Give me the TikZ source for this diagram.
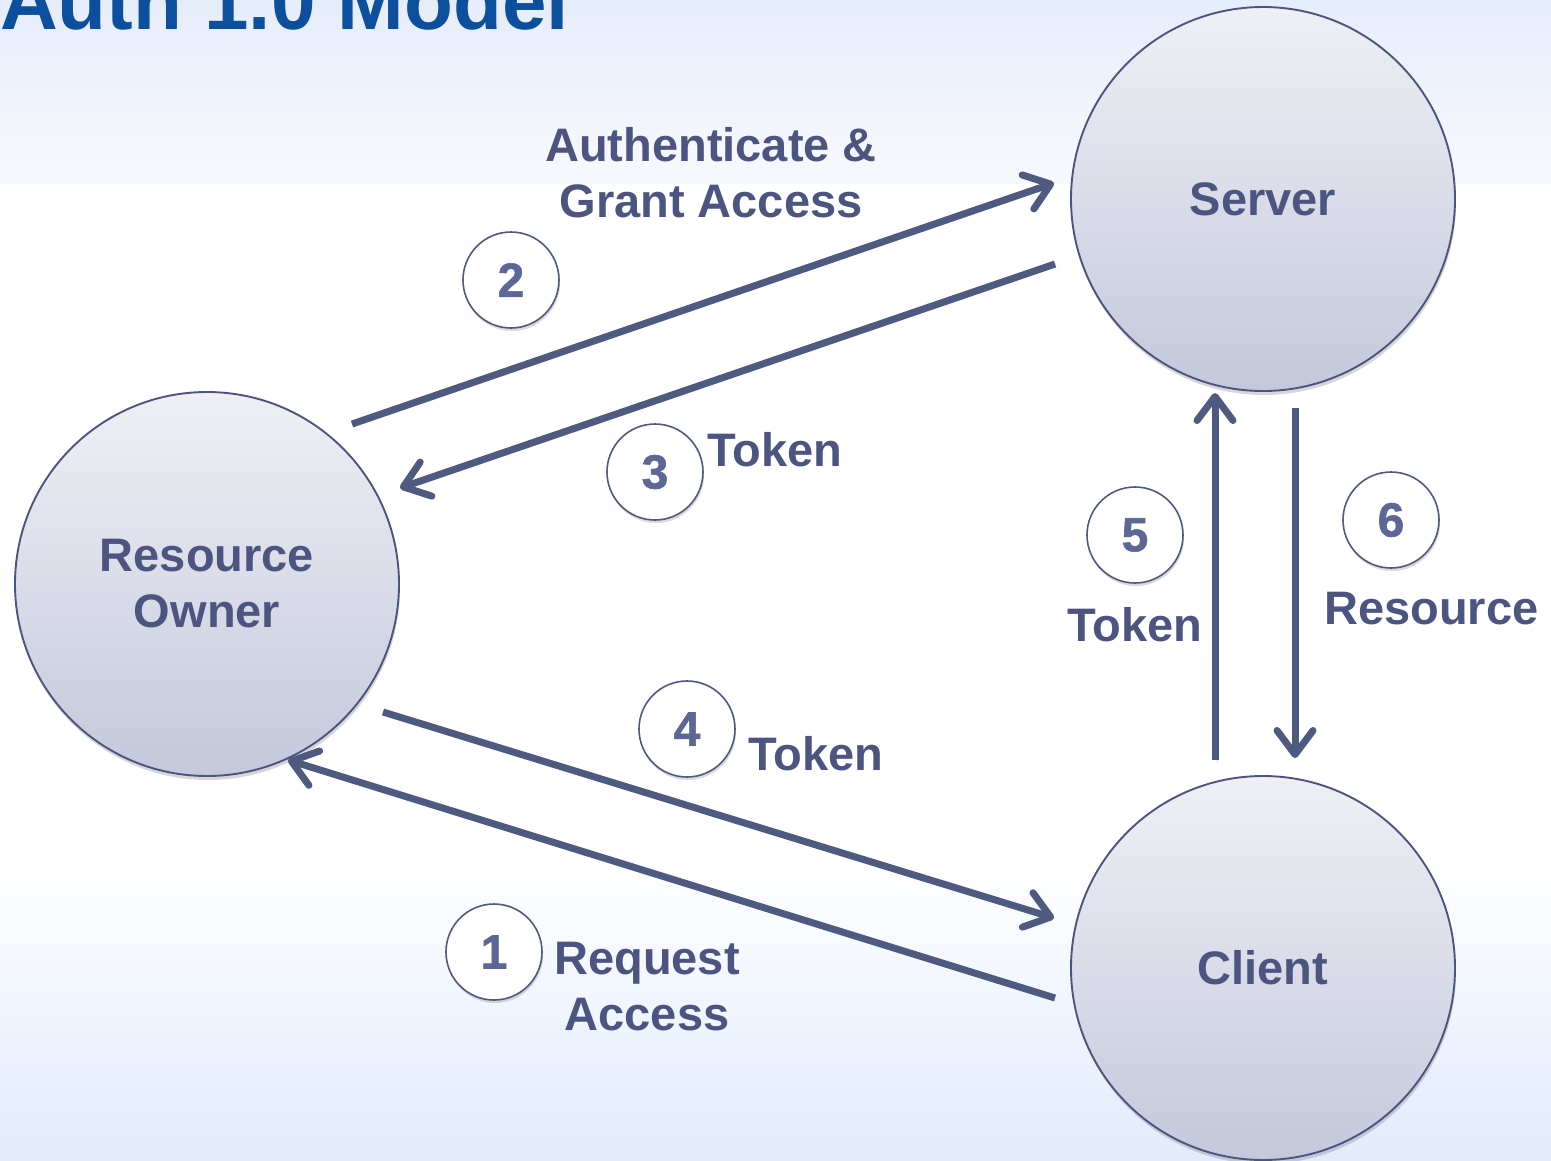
\documentclass[tikz,border=0pt]{standalone}
\usepackage{fontspec}
\setmainfont{Liberation Sans}
\newfontfamily\digitfont[FakeBold=1.2]{Liberation Sans Bold}
\usetikzlibrary{arrows.meta,shadows}

\definecolor{titleblue}{HTML}{0C509D}
\definecolor{ink}{HTML}{4B5580}
\definecolor{arrowc}{HTML}{4F5A80}
\definecolor{numc}{HTML}{5D6795}
\definecolor{disctop}{HTML}{EFF0F5}
\definecolor{discbot}{HTML}{C4C8DB}
\definecolor{bandtop}{HTML}{E6EDFA}
\definecolor{bandbot}{HTML}{F8F9FD}
\definecolor{floorc}{HTML}{E1EBFC}

\begin{document}
\begin{tikzpicture}[x=1pt,y=-1pt,
  party/.style={circle, minimum size=384pt, inner sep=0pt, draw=ink, line width=1.9pt,
    top color=disctop, bottom color=discbot, text=ink, align=center,
    font=\bfseries\fontsize{47}{56}\selectfont,
    drop shadow={shadow xshift=1pt, shadow yshift=-4pt, opacity=.22, fill=black!70}},
  stepnum/.style={circle, minimum size=96pt, inner sep=0pt, draw=arrowc, line width=1.6pt,
    fill=white, text=numc, font=\digitfont\fontsize{48}{48}\selectfont,
    drop shadow={shadow xshift=1pt, shadow yshift=-3pt, opacity=.2, fill=black!70}},
  msg/.style={inner sep=0pt, text=ink, align=center, font=\bfseries\fontsize{47}{56}\selectfont},
  flow/.style={draw=arrowc, line width=7pt,
    -{Straight Barb[length=24pt, width=36pt, round]},
    preaction={draw=black, opacity=.12, transform canvas={shift={(2pt,-3pt)}}}}]

% canvas and background
\useasboundingbox (0,0) rectangle (1551,1160);
\clip (0,0) rectangle (1551,1160);
\fill[white] (0,0) rectangle (1551,1160);
\shade[top color=bandtop, bottom color=bandbot] (0,0) rectangle (1551,183);
\shade[top color=white, bottom color=floorc] (0,860) rectangle (1551,1160);

% heading
\node[anchor=base west, inner sep=0pt, text=titleblue,
      font=\bfseries\fontsize{80}{80}\selectfont] (title) at (0,29) {Auth 1.0 Model};

% parties
\node[party] (srv) at (1263,199) {Server};
\node[party] (own) at (207,584) {Resource\\Owner};
\node[party] (cli) at (1263,968) {Client};

% connector end points
\coordinate (a2s) at (352,424);  \coordinate (a2e) at (1054,183);
\coordinate (a3s) at (1055,264); \coordinate (a3e) at (400,488);
\coordinate (a4s) at (383,712);  \coordinate (a4e) at (1054,918);
\coordinate (a1s) at (1055,998); \coordinate (a1e) at (288,760);
\coordinate (a5s) at (1215,760); \coordinate (a5e) at (1215,393);
\coordinate (a6s) at (1295,408); \coordinate (a6e) at (1295,758);

% message flows
\draw[flow] (a1s) -- (a1e);
\draw[flow] (a2s) -- (a2e);
\draw[flow] (a3s) -- (a3e);
\draw[flow] (a4s) -- (a4e);
\draw[flow] (a5s) -- (a5e);
\draw[flow] (a6s) -- (a6e);

% step numbers
\node[stepnum] (n1) at (494,952) {1};
\node[stepnum] (n2) at (511,280) {2};
\node[stepnum] (n3) at (655,472) {3};
\node[stepnum] (n4) at (687,729) {4};
\node[stepnum] (n5) at (1135,535) {5};
\node[stepnum] (n6) at (1391,520) {6};

% step labels
\node[msg, anchor=north] (l2) at (711,127) {Authenticate \&\\Grant Access};
\node[msg, anchor=north west] (l3) at (707,432) {Token};
\node[msg, anchor=north west] (l4) at (748,736) {Token};
\node[msg, anchor=north] (l1) at (647,942) {Request\\Access};
\node[msg, anchor=north] (l5) at (1135,607) {Token};
\node[msg, anchor=north west] (l6) at (1324,592) {Resource};
\end{tikzpicture}
\end{document}
